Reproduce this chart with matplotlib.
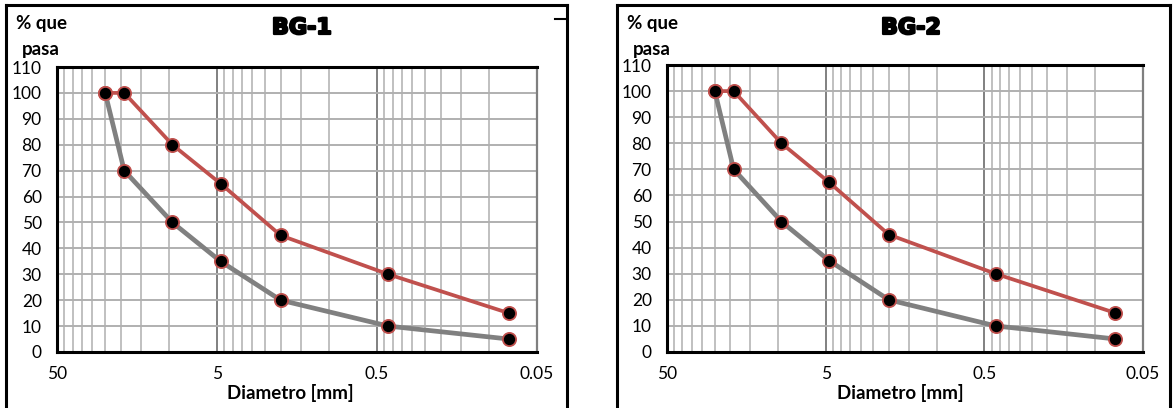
import matplotlib
matplotlib.use("Agg")
import matplotlib.pyplot as plt
import matplotlib.patheffects as pe
from matplotlib.lines import Line2D
from matplotlib.ticker import FixedLocator, NullFormatter, FixedFormatter

plt.rcParams['font.family'] = ['Lato', 'DejaVu Sans']

# sieve sizes (mm) and % passing for the two gradation limits
diam = [25, 19, 9.5, 4.75, 2, 0.425, 0.075]
lower = [100, 70, 50, 35, 20, 10, 5]
upper = [100, 100, 80, 65, 45, 30, 15]
titles = ["BG-1", "BG-2"]
x_major = [50, 5, 0.5, 0.05]
x_labels = ["50", "5", "0.5", "0.05"]
y_ticks = list(range(0, 111, 10))

# excel-style minor lines: multiples of 0.05 in each decade
x_minor = [k * 0.05 * 10 ** n for n in range(3) for k in range(2, 10)]

fig = plt.figure(figsize=(11.76, 4.08), dpi=100)
W, H = 1176.0, 408.0

# axes boxes in pixels: left, top, right, bottom
boxes = [(57, 67, 537, 352), (667, 65, 1143, 352)]
frames = [(6, 5, 567), (617, 5, 1170)]
title_x = [302, 911]
xlab_x = [290, 900]

for i in range(2):
    l, t, r, b = boxes[i]
    ax = fig.add_axes([l / W, 1 - b / H, (r - l) / W, (b - t) / H])
    ax.set_xscale('log')
    ax.set_xlim(50, 0.05)
    ax.set_ylim(0, 110)
    ax.xaxis.set_major_locator(FixedLocator(x_major))
    ax.xaxis.set_major_formatter(FixedFormatter(x_labels))
    ax.xaxis.set_minor_locator(FixedLocator(x_minor))
    ax.xaxis.set_minor_formatter(NullFormatter())
    ax.set_yticks(y_ticks)
    ax.tick_params(which='both', length=0)
    ax.tick_params(axis='x', pad=10, labelsize=12.5)
    ax.tick_params(axis='y', pad=11, labelsize=12.5)
    ax.grid(True, which='major', axis='x', color='#808080', lw=1.4)
    ax.grid(True, which='minor', axis='x', color='#c0c0c0', lw=1.4)
    ax.grid(True, which='major', axis='y', color='#b0b0b0', lw=1.4)
    ax.set_axisbelow(True)
    for s in ['left', 'bottom', 'top']:
        ax.spines[s].set_color('black')
        ax.spines[s].set_linewidth(2.2)
    ax.spines['right'].set_color('#7f7f7f')
    ax.spines['right'].set_linewidth(1.6)

    ax.plot(diam, upper, color='#c0504d', lw=2.7, marker='o', ms=9.5,
            mfc='black', mec='#c0504d', mew=1.3, zorder=3)
    ax.plot(diam, lower, color='#808080', lw=3.4, marker='o', ms=9.5,
            mfc='black', mec='#c0504d', mew=1.3, zorder=4)

    fig.text(title_x[i] / W, 1 - 28 / H, titles[i], ha='center', va='center',
             fontsize=16, fontweight='heavy', family=['DejaVu Sans'],
             path_effects=[pe.withStroke(linewidth=1.6, foreground='black')])
    fig.text(xlab_x[i] / W, 1 - 393 / H, "Diametro [mm]", ha='center',
             va='center', fontsize=13.5, fontweight='bold')
    fx = frames[i][0]
    fig.text((fx + 10) / W, 1 - 23 / H, "% que", ha='left', va='center',
             fontsize=13.5, fontweight='bold')
    fig.text((fx + 16) / W, 1 - 49 / H, "pasa", ha='left', va='center',
             fontsize=13.5, fontweight='bold')

    # outer chart frame, open at the bottom
    x0, y0, x1 = frames[i]
    for xs, ys in [([x0, x0], [y0, 420]), ([x0, x1], [y0, y0]), ([x1, x1], [y0, 420])]:
        fig.add_artist(Line2D([v / W for v in xs], [1 - v / H for v in ys],
                              color='black', lw=2.2))

fig.add_artist(Line2D([555 / W, 566 / W], [1 - 19 / H, 1 - 19 / H], color='black', lw=1.5))

fig.savefig("out.png", dpi=100)
